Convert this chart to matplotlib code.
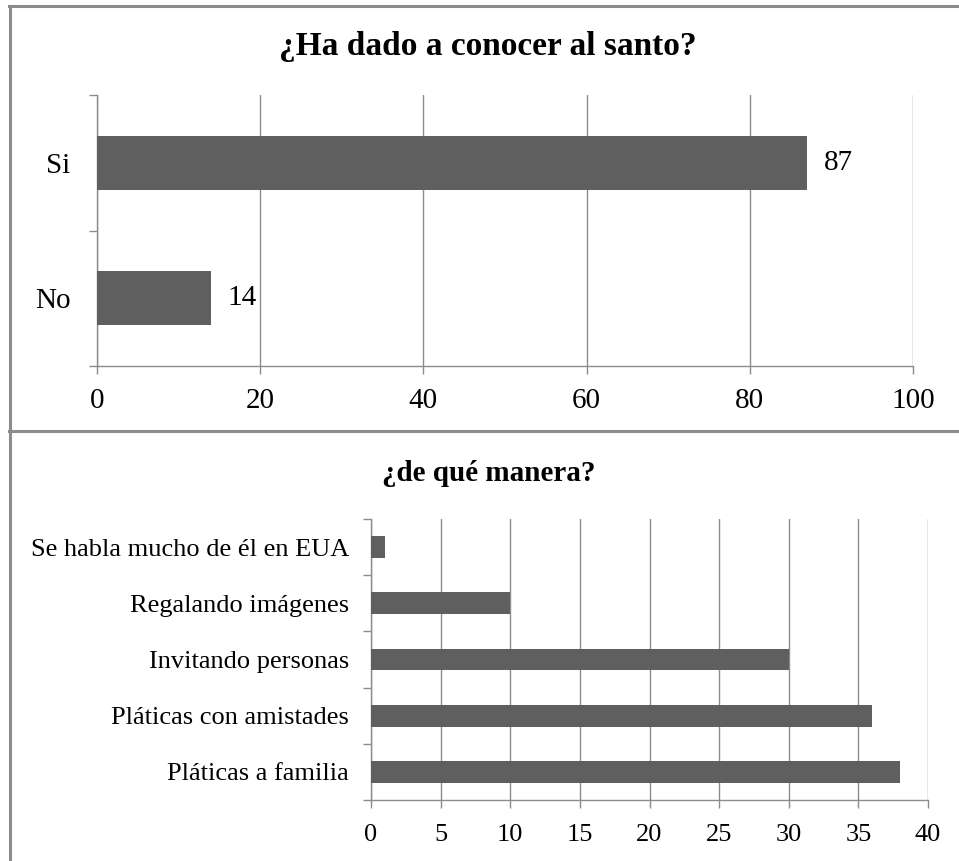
import matplotlib
matplotlib.use("Agg")
import matplotlib.pyplot as plt
from matplotlib.lines import Line2D

plt.rcParams["font.family"] = ["Liberation Serif", "DejaVu Serif"]

W, H = 959, 861
BAR, GRID, FRAME = "#5f5f5f", "#8c8c8c", "#8c8c8c"

# survey answers, listed top to bottom as drawn
q1_title = "¿Ha dado a conocer al santo?"
q1_labels = ["Si", "No"]
q1_values = [87, 14]

q2_title = "¿de qué manera?"
q2_labels = ["Se habla mucho de él en EUA", "Regalando imágenes", "Invitando personas",
             "Pláticas con amistades", "Pláticas a familia"]
q2_values = [1, 10, 30, 36, 38]


def px_axes(fig, x0, y0, x1, y1):
    # axes placed by pixel box (top-left origin)
    return fig.add_axes([x0 / W, 1 - y1 / H, (x1 - x0) / W, (y1 - y0) / H])


def hbar(ax, labels, values, xmax, step, bar_h, fs, ypad, xpad):
    n = len(labels)
    ax.barh(range(n), values, height=bar_h, color=BAR, zorder=3)
    ax.set_yticks(range(n), labels)
    ax.set_yticks([i - 0.5 for i in range(n + 1)], minor=True)
    ax.set_ylim(n - 0.5, -0.5)
    ax.set_xlim(0, xmax)
    ax.set_xticks(range(0, xmax + 1, step))
    ax.grid(axis="x", color=GRID, lw=1.0, zorder=0)
    for s in ("top", "right"):
        ax.spines[s].set_visible(False)
    for s in ("left", "bottom"):
        ax.spines[s].set_color(GRID)
        ax.spines[s].set_linewidth(1.0)
    ax.tick_params(axis="y", which="major", length=0, pad=ypad, labelsize=fs)
    ax.tick_params(axis="y", which="minor", length=6, color=GRID, width=1.0)
    ax.tick_params(axis="x", length=6, color=GRID, width=1.0, pad=xpad, labelsize=fs)


fig = plt.figure(figsize=(W / 100, H / 100), dpi=100)

# top chart
ax1 = px_axes(fig, 97, 95, 913, 366)
hbar(ax1, q1_labels, q1_values, 100, 20, 0.4, 21, 19, 10)
for i, v in enumerate(q1_values):
    ax1.annotate(f"{v}", (v, i), xytext=(12, 0), textcoords="offset points",
                 va="center", ha="left", fontsize=21)
fig.text(488 / W, 1 - 47 / H, q1_title, ha="center", va="center",
         fontsize=24, fontweight="bold")

# bottom chart
ax2 = px_axes(fig, 371, 519, 928, 800)
hbar(ax2, q2_labels, q2_values, 40, 5, 0.39, 19, 16, 11)
fig.text(489 / W, 1 - 473 / H, q2_title, ha="center", va="center",
         fontsize=21, fontweight="bold")

# panel frames
lw = 2.2
for xs, ys in [((10, 10), (6, H)), ((9, W), (6, 6)), ((9, W), (431, 431))]:
    fig.add_artist(Line2D([x / W for x in xs], [1 - y / H for y in ys],
                          transform=fig.transFigure, color=FRAME, lw=lw))

fig.savefig("out.png", dpi=100)
